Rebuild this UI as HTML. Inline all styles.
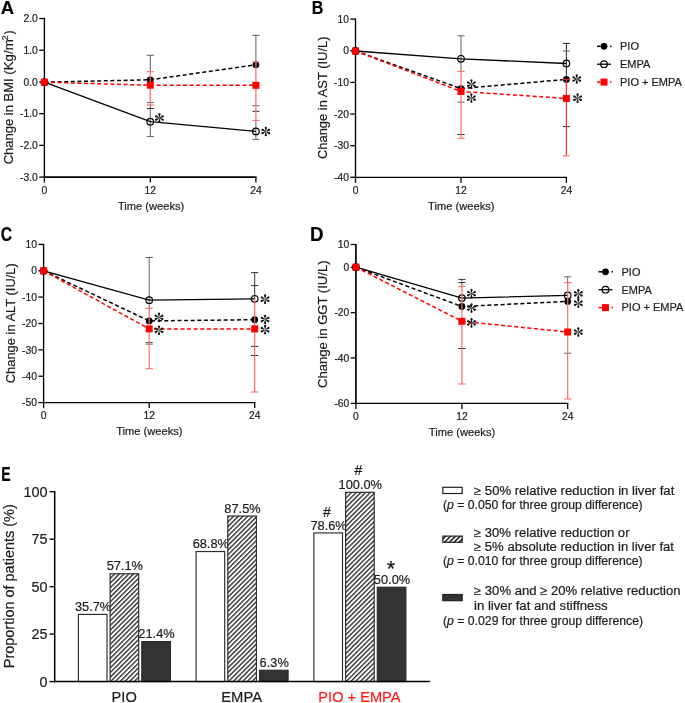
<!DOCTYPE html>
<html><head><meta charset="utf-8"><style>
html,body{margin:0;padding:0;background:#fff;width:685px;height:703px;overflow:hidden}
svg{display:block;font-family:"Liberation Sans",sans-serif;will-change:transform}
</style></head><body>
<svg width="685" height="703" viewBox="0 0 685 703" font-family="Liberation Sans, sans-serif">
<rect width="685" height="703" fill="#fff"/>
<text x="0" y="0" font-size="20" font-weight="bold" fill="#000" transform="matrix(0.9240,0,0,0.9230,0.64,14.10)" stroke="#000" stroke-width="0.2">A</text>
<line x1="44.40" y1="17.90" x2="44.40" y2="177.70" stroke="#000" stroke-width="1.35" stroke-linecap="butt"/>
<line x1="43.80" y1="177.10" x2="256.50" y2="177.10" stroke="#000" stroke-width="1.75" stroke-linecap="butt"/>
<line x1="39.20" y1="18.50" x2="44.40" y2="18.50" stroke="#000" stroke-width="1.3" stroke-linecap="butt"/>
<text x="37.80" y="22.20" font-size="10.3" text-anchor="end" font-weight="normal" fill="#1c1c1c"  stroke="#1c1c1c" stroke-width="0.2">2.0</text>
<line x1="39.20" y1="50.22" x2="44.40" y2="50.22" stroke="#000" stroke-width="1.3" stroke-linecap="butt"/>
<text x="37.80" y="53.92" font-size="10.3" text-anchor="end" font-weight="normal" fill="#1c1c1c"  stroke="#1c1c1c" stroke-width="0.2">1.0</text>
<line x1="39.20" y1="81.94" x2="44.40" y2="81.94" stroke="#000" stroke-width="1.3" stroke-linecap="butt"/>
<text x="37.80" y="85.64" font-size="10.3" text-anchor="end" font-weight="normal" fill="#1c1c1c"  stroke="#1c1c1c" stroke-width="0.2">0.0</text>
<line x1="39.20" y1="113.66" x2="44.40" y2="113.66" stroke="#000" stroke-width="1.3" stroke-linecap="butt"/>
<text x="37.80" y="117.36" font-size="10.3" text-anchor="end" font-weight="normal" fill="#1c1c1c"  stroke="#1c1c1c" stroke-width="0.2">-1.0</text>
<line x1="39.20" y1="145.38" x2="44.40" y2="145.38" stroke="#000" stroke-width="1.3" stroke-linecap="butt"/>
<text x="37.80" y="149.08" font-size="10.3" text-anchor="end" font-weight="normal" fill="#1c1c1c"  stroke="#1c1c1c" stroke-width="0.2">-2.0</text>
<line x1="39.20" y1="177.10" x2="44.40" y2="177.10" stroke="#000" stroke-width="1.3" stroke-linecap="butt"/>
<text x="37.80" y="180.80" font-size="10.3" text-anchor="end" font-weight="normal" fill="#1c1c1c"  stroke="#1c1c1c" stroke-width="0.2">-3.0</text>
<line x1="44.40" y1="177.10" x2="44.40" y2="182.60" stroke="#000" stroke-width="1.3" stroke-linecap="butt"/>
<text x="44.40" y="193.50" font-size="10.3" text-anchor="middle" font-weight="normal" fill="#1c1c1c"  stroke="#1c1c1c" stroke-width="0.2">0</text>
<line x1="150.30" y1="177.10" x2="150.30" y2="182.60" stroke="#000" stroke-width="1.3" stroke-linecap="butt"/>
<text x="150.30" y="193.50" font-size="10.3" text-anchor="middle" font-weight="normal" fill="#1c1c1c"  stroke="#1c1c1c" stroke-width="0.2">12</text>
<line x1="255.90" y1="177.10" x2="255.90" y2="182.60" stroke="#000" stroke-width="1.3" stroke-linecap="butt"/>
<text x="255.90" y="193.50" font-size="10.3" text-anchor="middle" font-weight="normal" fill="#1c1c1c"  stroke="#1c1c1c" stroke-width="0.2">24</text>
<text x="151.10" y="209.70" font-size="11" text-anchor="middle" font-weight="normal" fill="#1c1c1c" textLength="66.4" lengthAdjust="spacingAndGlyphs"  stroke="#1c1c1c" stroke-width="0.2">Time (weeks)</text>
<line x1="150.30" y1="55.30" x2="150.30" y2="71.70" stroke="#606060" stroke-width="1.0" stroke-linecap="butt"/>
<line x1="150.30" y1="105.00" x2="150.30" y2="136.60" stroke="#606060" stroke-width="1.0" stroke-linecap="butt"/>
<line x1="146.70" y1="55.30" x2="153.90" y2="55.30" stroke="#606060" stroke-width="1.0" stroke-linecap="butt"/>
<line x1="146.70" y1="102.60" x2="153.90" y2="102.60" stroke="#606060" stroke-width="1.0" stroke-linecap="butt"/>
<line x1="146.70" y1="108.50" x2="153.90" y2="108.50" stroke="#333" stroke-width="1.0" stroke-linecap="butt"/>
<line x1="146.70" y1="136.60" x2="153.90" y2="136.60" stroke="#606060" stroke-width="1.0" stroke-linecap="butt"/>
<line x1="255.90" y1="35.40" x2="255.90" y2="61.90" stroke="#606060" stroke-width="1.0" stroke-linecap="butt"/>
<line x1="255.90" y1="120.40" x2="255.90" y2="139.30" stroke="#606060" stroke-width="1.0" stroke-linecap="butt"/>
<line x1="252.30" y1="35.40" x2="259.50" y2="35.40" stroke="#606060" stroke-width="1.0" stroke-linecap="butt"/>
<line x1="252.30" y1="105.70" x2="259.50" y2="105.70" stroke="#606060" stroke-width="1.0" stroke-linecap="butt"/>
<line x1="252.30" y1="111.30" x2="259.50" y2="111.30" stroke="#333" stroke-width="1.0" stroke-linecap="butt"/>
<line x1="252.30" y1="139.30" x2="259.50" y2="139.30" stroke="#606060" stroke-width="1.0" stroke-linecap="butt"/>
<polyline points="44.40,82.20 150.30,79.80 255.90,64.80" fill="none" stroke="#000" stroke-width="1.5" stroke-dasharray="4,2.6"/>
<polyline points="44.40,82.20 150.30,121.70 255.90,131.40" fill="none" stroke="#000" stroke-width="1.3"/>
<polyline points="44.40,82.20 150.30,85.20 255.90,85.30" fill="none" stroke="#ff0000" stroke-width="1.5" stroke-dasharray="4,2.6"/>
<circle cx="44.40" cy="82.20" r="3.3" fill="none" stroke="#000" stroke-width="1.2"/>
<circle cx="150.30" cy="121.70" r="3.3" fill="none" stroke="#000" stroke-width="1.2"/>
<circle cx="255.90" cy="131.40" r="3.3" fill="none" stroke="#000" stroke-width="1.2"/>
<circle cx="44.40" cy="82.20" r="3.4" fill="#000"/>
<circle cx="150.30" cy="79.80" r="3.4" fill="#000"/>
<circle cx="255.90" cy="64.80" r="3.4" fill="#000"/>
<line x1="150.30" y1="71.70" x2="150.30" y2="105.00" stroke="#ff6a6a" stroke-width="1.2" stroke-linecap="butt"/>
<line x1="146.70" y1="71.70" x2="153.90" y2="71.70" stroke="#ff6a6a" stroke-width="1.1" stroke-linecap="butt"/>
<line x1="146.70" y1="105.00" x2="153.90" y2="105.00" stroke="#ff6a6a" stroke-width="1.1" stroke-linecap="butt"/>
<line x1="255.90" y1="61.90" x2="255.90" y2="120.40" stroke="#ff6a6a" stroke-width="1.2" stroke-linecap="butt"/>
<line x1="252.30" y1="61.90" x2="259.50" y2="61.90" stroke="#ff6a6a" stroke-width="1.1" stroke-linecap="butt"/>
<line x1="252.30" y1="120.40" x2="259.50" y2="120.40" stroke="#ff6a6a" stroke-width="1.1" stroke-linecap="butt"/>
<rect x="40.90" y="78.70" width="7" height="7" fill="#ff0000"/>
<rect x="146.80" y="81.70" width="7" height="7" fill="#ff0000"/>
<rect x="252.40" y="81.80" width="7" height="7" fill="#ff0000"/>
<path d="M0.6,-0.2 L3.75,-1.10 A1.10,1.10 0 1 1 3.75,1.10 L0.6,0.2 Z" fill="#111" transform="translate(159.40,118.00) rotate(-90)"/>
<path d="M0.6,-0.2 L3.75,-1.10 A1.10,1.10 0 1 1 3.75,1.10 L0.6,0.2 Z" fill="#111" transform="translate(159.40,118.00) rotate(-27)"/>
<path d="M0.6,-0.2 L3.75,-1.10 A1.10,1.10 0 1 1 3.75,1.10 L0.6,0.2 Z" fill="#111" transform="translate(159.40,118.00) rotate(27)"/>
<path d="M0.6,-0.2 L3.75,-1.10 A1.10,1.10 0 1 1 3.75,1.10 L0.6,0.2 Z" fill="#111" transform="translate(159.40,118.00) rotate(90)"/>
<path d="M0.6,-0.2 L3.75,-1.10 A1.10,1.10 0 1 1 3.75,1.10 L0.6,0.2 Z" fill="#111" transform="translate(159.40,118.00) rotate(-153)"/>
<path d="M0.6,-0.2 L3.75,-1.10 A1.10,1.10 0 1 1 3.75,1.10 L0.6,0.2 Z" fill="#111" transform="translate(159.40,118.00) rotate(-207)"/>
<circle cx="159.40" cy="118.00" r="0.55" fill="#111"/>
<path d="M0.6,-0.2 L3.75,-1.10 A1.10,1.10 0 1 1 3.75,1.10 L0.6,0.2 Z" fill="#111" transform="translate(265.80,131.50) rotate(-90)"/>
<path d="M0.6,-0.2 L3.75,-1.10 A1.10,1.10 0 1 1 3.75,1.10 L0.6,0.2 Z" fill="#111" transform="translate(265.80,131.50) rotate(-27)"/>
<path d="M0.6,-0.2 L3.75,-1.10 A1.10,1.10 0 1 1 3.75,1.10 L0.6,0.2 Z" fill="#111" transform="translate(265.80,131.50) rotate(27)"/>
<path d="M0.6,-0.2 L3.75,-1.10 A1.10,1.10 0 1 1 3.75,1.10 L0.6,0.2 Z" fill="#111" transform="translate(265.80,131.50) rotate(90)"/>
<path d="M0.6,-0.2 L3.75,-1.10 A1.10,1.10 0 1 1 3.75,1.10 L0.6,0.2 Z" fill="#111" transform="translate(265.80,131.50) rotate(-153)"/>
<path d="M0.6,-0.2 L3.75,-1.10 A1.10,1.10 0 1 1 3.75,1.10 L0.6,0.2 Z" fill="#111" transform="translate(265.80,131.50) rotate(-207)"/>
<circle cx="265.80" cy="131.50" r="0.55" fill="#111"/>
<text transform="translate(13.30,164.35) rotate(-90)" font-size="13.3" fill="#1c1c1c" textLength="85.98" lengthAdjust="spacingAndGlyphs" stroke="#1c1c1c" stroke-width="0.2">Change in BMI</text>
<text transform="translate(13.30,74.70) rotate(-90)" font-size="13.3" fill="#1c1c1c" textLength="35.39" lengthAdjust="spacingAndGlyphs" stroke="#1c1c1c" stroke-width="0.2">(Kg/m</text>
<text transform="translate(7.60,40.46) rotate(-90)" font-size="9.0" fill="#1c1c1c" textLength="5.13" lengthAdjust="spacingAndGlyphs" stroke="#1c1c1c" stroke-width="0.2">2</text>
<text transform="translate(13.30,34.22) rotate(-90)" font-size="13.3" fill="#1c1c1c" textLength="3.84" lengthAdjust="spacingAndGlyphs" stroke="#1c1c1c" stroke-width="0.2">)</text>
<text x="0" y="0" font-size="20" font-weight="bold" fill="#000" transform="matrix(0.8033,0,0,0.9157,311.82,13.80)" stroke="#000" stroke-width="0.2">B</text>
<line x1="355.50" y1="18.50" x2="355.50" y2="177.90" stroke="#000" stroke-width="1.35" stroke-linecap="butt"/>
<line x1="354.90" y1="177.30" x2="567.00" y2="177.30" stroke="#000" stroke-width="1.35" stroke-linecap="butt"/>
<line x1="350.30" y1="19.10" x2="355.50" y2="19.10" stroke="#000" stroke-width="1.3" stroke-linecap="butt"/>
<text x="348.90" y="22.80" font-size="10.3" text-anchor="end" font-weight="normal" fill="#1c1c1c"  stroke="#1c1c1c" stroke-width="0.2">10</text>
<line x1="350.30" y1="50.74" x2="355.50" y2="50.74" stroke="#000" stroke-width="1.3" stroke-linecap="butt"/>
<text x="348.90" y="54.44" font-size="10.3" text-anchor="end" font-weight="normal" fill="#1c1c1c"  stroke="#1c1c1c" stroke-width="0.2">0</text>
<line x1="350.30" y1="82.38" x2="355.50" y2="82.38" stroke="#000" stroke-width="1.3" stroke-linecap="butt"/>
<text x="348.90" y="86.08" font-size="10.3" text-anchor="end" font-weight="normal" fill="#1c1c1c"  stroke="#1c1c1c" stroke-width="0.2">-10</text>
<line x1="350.30" y1="114.02" x2="355.50" y2="114.02" stroke="#000" stroke-width="1.3" stroke-linecap="butt"/>
<text x="348.90" y="117.72" font-size="10.3" text-anchor="end" font-weight="normal" fill="#1c1c1c"  stroke="#1c1c1c" stroke-width="0.2">-20</text>
<line x1="350.30" y1="145.66" x2="355.50" y2="145.66" stroke="#000" stroke-width="1.3" stroke-linecap="butt"/>
<text x="348.90" y="149.36" font-size="10.3" text-anchor="end" font-weight="normal" fill="#1c1c1c"  stroke="#1c1c1c" stroke-width="0.2">-30</text>
<line x1="350.30" y1="177.30" x2="355.50" y2="177.30" stroke="#000" stroke-width="1.3" stroke-linecap="butt"/>
<text x="348.90" y="181.00" font-size="10.3" text-anchor="end" font-weight="normal" fill="#1c1c1c"  stroke="#1c1c1c" stroke-width="0.2">-40</text>
<line x1="355.50" y1="177.30" x2="355.50" y2="182.80" stroke="#000" stroke-width="1.3" stroke-linecap="butt"/>
<text x="355.50" y="193.70" font-size="10.3" text-anchor="middle" font-weight="normal" fill="#1c1c1c"  stroke="#1c1c1c" stroke-width="0.2">0</text>
<line x1="461.00" y1="177.30" x2="461.00" y2="182.80" stroke="#000" stroke-width="1.3" stroke-linecap="butt"/>
<text x="461.00" y="193.70" font-size="10.3" text-anchor="middle" font-weight="normal" fill="#1c1c1c"  stroke="#1c1c1c" stroke-width="0.2">12</text>
<line x1="566.40" y1="177.30" x2="566.40" y2="182.80" stroke="#000" stroke-width="1.3" stroke-linecap="butt"/>
<text x="566.40" y="193.70" font-size="10.3" text-anchor="middle" font-weight="normal" fill="#1c1c1c"  stroke="#1c1c1c" stroke-width="0.2">24</text>
<text x="461.30" y="209.90" font-size="11" text-anchor="middle" font-weight="normal" fill="#1c1c1c" textLength="66.4" lengthAdjust="spacingAndGlyphs"  stroke="#1c1c1c" stroke-width="0.2">Time (weeks)</text>
<text transform="translate(327.0,159.0) rotate(-90)" font-size="13.3" fill="#1c1c1c" textLength="122.5" lengthAdjust="spacingAndGlyphs" stroke="#1c1c1c" stroke-width="0.2">Change in AST (IU/L)</text>
<line x1="461.00" y1="35.80" x2="461.00" y2="71.40" stroke="#606060" stroke-width="1.0" stroke-linecap="butt"/>
<line x1="457.40" y1="35.80" x2="464.60" y2="35.80" stroke="#606060" stroke-width="1.0" stroke-linecap="butt"/>
<line x1="457.40" y1="102.20" x2="464.60" y2="102.20" stroke="#606060" stroke-width="1.0" stroke-linecap="butt"/>
<line x1="457.40" y1="134.50" x2="464.60" y2="134.50" stroke="#333" stroke-width="1.0" stroke-linecap="butt"/>
<line x1="566.40" y1="43.40" x2="566.40" y2="79.40" stroke="#222" stroke-width="1.0" stroke-linecap="butt"/>
<line x1="562.80" y1="43.40" x2="570.00" y2="43.40" stroke="#222" stroke-width="1.0" stroke-linecap="butt"/>
<line x1="562.80" y1="51.00" x2="570.00" y2="51.00" stroke="#606060" stroke-width="1.0" stroke-linecap="butt"/>
<line x1="562.80" y1="126.60" x2="570.00" y2="126.60" stroke="#333" stroke-width="1.0" stroke-linecap="butt"/>
<polyline points="355.50,51.00 461.00,88.60 566.40,79.40" fill="none" stroke="#000" stroke-width="1.5" stroke-dasharray="4,2.6"/>
<polyline points="355.50,51.00 461.00,58.80 566.40,63.50" fill="none" stroke="#000" stroke-width="1.3"/>
<polyline points="355.50,51.00 461.00,91.50 566.40,98.40" fill="none" stroke="#ff0000" stroke-width="1.5" stroke-dasharray="4,2.6"/>
<circle cx="355.50" cy="51.00" r="3.3" fill="none" stroke="#000" stroke-width="1.2"/>
<circle cx="461.00" cy="58.80" r="3.3" fill="none" stroke="#000" stroke-width="1.2"/>
<circle cx="566.40" cy="63.50" r="3.3" fill="none" stroke="#000" stroke-width="1.2"/>
<circle cx="355.50" cy="51.00" r="3.4" fill="#000"/>
<circle cx="461.00" cy="88.60" r="3.4" fill="#000"/>
<circle cx="566.40" cy="79.40" r="3.4" fill="#000"/>
<line x1="461.00" y1="71.40" x2="461.00" y2="138.20" stroke="#ff6a6a" stroke-width="1.2" stroke-linecap="butt"/>
<line x1="457.40" y1="71.40" x2="464.60" y2="71.40" stroke="#ff6a6a" stroke-width="1.1" stroke-linecap="butt"/>
<line x1="457.40" y1="138.20" x2="464.60" y2="138.20" stroke="#ff6a6a" stroke-width="1.1" stroke-linecap="butt"/>
<line x1="566.40" y1="79.40" x2="566.40" y2="155.80" stroke="#ff2a2a" stroke-width="1.2" stroke-linecap="butt"/>
<line x1="562.80" y1="79.40" x2="570.00" y2="79.40" stroke="#ff2a2a" stroke-width="1.1" stroke-linecap="butt"/>
<line x1="562.80" y1="155.80" x2="570.00" y2="155.80" stroke="#ff6a6a" stroke-width="1.1" stroke-linecap="butt"/>
<rect x="352.00" y="47.50" width="7" height="7" fill="#ff0000"/>
<rect x="457.50" y="88.00" width="7" height="7" fill="#ff0000"/>
<rect x="562.90" y="94.90" width="7" height="7" fill="#ff0000"/>
<path d="M0.6,-0.2 L3.75,-1.10 A1.10,1.10 0 1 1 3.75,1.10 L0.6,0.2 Z" fill="#111" transform="translate(471.40,84.20) rotate(-90)"/>
<path d="M0.6,-0.2 L3.75,-1.10 A1.10,1.10 0 1 1 3.75,1.10 L0.6,0.2 Z" fill="#111" transform="translate(471.40,84.20) rotate(-27)"/>
<path d="M0.6,-0.2 L3.75,-1.10 A1.10,1.10 0 1 1 3.75,1.10 L0.6,0.2 Z" fill="#111" transform="translate(471.40,84.20) rotate(27)"/>
<path d="M0.6,-0.2 L3.75,-1.10 A1.10,1.10 0 1 1 3.75,1.10 L0.6,0.2 Z" fill="#111" transform="translate(471.40,84.20) rotate(90)"/>
<path d="M0.6,-0.2 L3.75,-1.10 A1.10,1.10 0 1 1 3.75,1.10 L0.6,0.2 Z" fill="#111" transform="translate(471.40,84.20) rotate(-153)"/>
<path d="M0.6,-0.2 L3.75,-1.10 A1.10,1.10 0 1 1 3.75,1.10 L0.6,0.2 Z" fill="#111" transform="translate(471.40,84.20) rotate(-207)"/>
<circle cx="471.40" cy="84.20" r="0.55" fill="#111"/>
<path d="M0.6,-0.2 L3.75,-1.10 A1.10,1.10 0 1 1 3.75,1.10 L0.6,0.2 Z" fill="#111" transform="translate(471.40,98.10) rotate(-90)"/>
<path d="M0.6,-0.2 L3.75,-1.10 A1.10,1.10 0 1 1 3.75,1.10 L0.6,0.2 Z" fill="#111" transform="translate(471.40,98.10) rotate(-27)"/>
<path d="M0.6,-0.2 L3.75,-1.10 A1.10,1.10 0 1 1 3.75,1.10 L0.6,0.2 Z" fill="#111" transform="translate(471.40,98.10) rotate(27)"/>
<path d="M0.6,-0.2 L3.75,-1.10 A1.10,1.10 0 1 1 3.75,1.10 L0.6,0.2 Z" fill="#111" transform="translate(471.40,98.10) rotate(90)"/>
<path d="M0.6,-0.2 L3.75,-1.10 A1.10,1.10 0 1 1 3.75,1.10 L0.6,0.2 Z" fill="#111" transform="translate(471.40,98.10) rotate(-153)"/>
<path d="M0.6,-0.2 L3.75,-1.10 A1.10,1.10 0 1 1 3.75,1.10 L0.6,0.2 Z" fill="#111" transform="translate(471.40,98.10) rotate(-207)"/>
<circle cx="471.40" cy="98.10" r="0.55" fill="#111"/>
<path d="M0.6,-0.2 L3.75,-1.10 A1.10,1.10 0 1 1 3.75,1.10 L0.6,0.2 Z" fill="#111" transform="translate(576.80,79.00) rotate(-90)"/>
<path d="M0.6,-0.2 L3.75,-1.10 A1.10,1.10 0 1 1 3.75,1.10 L0.6,0.2 Z" fill="#111" transform="translate(576.80,79.00) rotate(-27)"/>
<path d="M0.6,-0.2 L3.75,-1.10 A1.10,1.10 0 1 1 3.75,1.10 L0.6,0.2 Z" fill="#111" transform="translate(576.80,79.00) rotate(27)"/>
<path d="M0.6,-0.2 L3.75,-1.10 A1.10,1.10 0 1 1 3.75,1.10 L0.6,0.2 Z" fill="#111" transform="translate(576.80,79.00) rotate(90)"/>
<path d="M0.6,-0.2 L3.75,-1.10 A1.10,1.10 0 1 1 3.75,1.10 L0.6,0.2 Z" fill="#111" transform="translate(576.80,79.00) rotate(-153)"/>
<path d="M0.6,-0.2 L3.75,-1.10 A1.10,1.10 0 1 1 3.75,1.10 L0.6,0.2 Z" fill="#111" transform="translate(576.80,79.00) rotate(-207)"/>
<circle cx="576.80" cy="79.00" r="0.55" fill="#111"/>
<path d="M0.6,-0.2 L3.75,-1.10 A1.10,1.10 0 1 1 3.75,1.10 L0.6,0.2 Z" fill="#111" transform="translate(577.60,98.20) rotate(-90)"/>
<path d="M0.6,-0.2 L3.75,-1.10 A1.10,1.10 0 1 1 3.75,1.10 L0.6,0.2 Z" fill="#111" transform="translate(577.60,98.20) rotate(-27)"/>
<path d="M0.6,-0.2 L3.75,-1.10 A1.10,1.10 0 1 1 3.75,1.10 L0.6,0.2 Z" fill="#111" transform="translate(577.60,98.20) rotate(27)"/>
<path d="M0.6,-0.2 L3.75,-1.10 A1.10,1.10 0 1 1 3.75,1.10 L0.6,0.2 Z" fill="#111" transform="translate(577.60,98.20) rotate(90)"/>
<path d="M0.6,-0.2 L3.75,-1.10 A1.10,1.10 0 1 1 3.75,1.10 L0.6,0.2 Z" fill="#111" transform="translate(577.60,98.20) rotate(-153)"/>
<path d="M0.6,-0.2 L3.75,-1.10 A1.10,1.10 0 1 1 3.75,1.10 L0.6,0.2 Z" fill="#111" transform="translate(577.60,98.20) rotate(-207)"/>
<circle cx="577.60" cy="98.20" r="0.55" fill="#111"/>
<line x1="597.00" y1="46.30" x2="600.50" y2="46.30" stroke="#000" stroke-width="1.5" stroke-linecap="butt"/>
<circle cx="604.00" cy="46.30" r="3.4" fill="#000"/>
<line x1="610.00" y1="46.30" x2="611.50" y2="46.30" stroke="#000" stroke-width="1.5" stroke-linecap="butt"/>
<line x1="597.00" y1="64.20" x2="611.00" y2="64.20" stroke="#000" stroke-width="1.3" stroke-linecap="butt"/>
<circle cx="604.00" cy="64.20" r="3.3" fill="none" stroke="#000" stroke-width="1.2"/>
<line x1="597.00" y1="82.10" x2="600.50" y2="82.10" stroke="#ff0000" stroke-width="1.5" stroke-linecap="butt"/>
<rect x="600.50" y="78.60" width="7" height="7" fill="#ff0000"/>
<line x1="610.00" y1="82.10" x2="611.50" y2="82.10" stroke="#ff0000" stroke-width="1.5" stroke-linecap="butt"/>
<text x="620.00" y="50.10" font-size="11" text-anchor="start" font-weight="normal" fill="#1c1c1c"  stroke="#1c1c1c" stroke-width="0.2">PIO</text>
<text x="620.00" y="68.00" font-size="11" text-anchor="start" font-weight="normal" fill="#1c1c1c"  stroke="#1c1c1c" stroke-width="0.2">EMPA</text>
<text x="620.00" y="85.90" font-size="11" text-anchor="start" font-weight="normal" fill="#1c1c1c"  stroke="#1c1c1c" stroke-width="0.2">PIO + EMPA</text>
<text x="0" y="0" font-size="20" font-weight="bold" fill="#000" transform="matrix(0.7875,0,0,0.9887,0.85,240.80)" stroke="#000" stroke-width="0.2">C</text>
<line x1="43.60" y1="243.80" x2="43.60" y2="403.20" stroke="#000" stroke-width="1.35" stroke-linecap="butt"/>
<line x1="43.00" y1="402.60" x2="255.30" y2="402.60" stroke="#000" stroke-width="1.35" stroke-linecap="butt"/>
<line x1="38.40" y1="244.40" x2="43.60" y2="244.40" stroke="#000" stroke-width="1.3" stroke-linecap="butt"/>
<text x="37.00" y="248.10" font-size="10.3" text-anchor="end" font-weight="normal" fill="#1c1c1c"  stroke="#1c1c1c" stroke-width="0.2">10</text>
<line x1="38.40" y1="270.77" x2="43.60" y2="270.77" stroke="#000" stroke-width="1.3" stroke-linecap="butt"/>
<text x="37.00" y="274.47" font-size="10.3" text-anchor="end" font-weight="normal" fill="#1c1c1c"  stroke="#1c1c1c" stroke-width="0.2">0</text>
<line x1="38.40" y1="297.13" x2="43.60" y2="297.13" stroke="#000" stroke-width="1.3" stroke-linecap="butt"/>
<text x="37.00" y="300.83" font-size="10.3" text-anchor="end" font-weight="normal" fill="#1c1c1c"  stroke="#1c1c1c" stroke-width="0.2">-10</text>
<line x1="38.40" y1="323.50" x2="43.60" y2="323.50" stroke="#000" stroke-width="1.3" stroke-linecap="butt"/>
<text x="37.00" y="327.20" font-size="10.3" text-anchor="end" font-weight="normal" fill="#1c1c1c"  stroke="#1c1c1c" stroke-width="0.2">-20</text>
<line x1="38.40" y1="349.87" x2="43.60" y2="349.87" stroke="#000" stroke-width="1.3" stroke-linecap="butt"/>
<text x="37.00" y="353.57" font-size="10.3" text-anchor="end" font-weight="normal" fill="#1c1c1c"  stroke="#1c1c1c" stroke-width="0.2">-30</text>
<line x1="38.40" y1="376.23" x2="43.60" y2="376.23" stroke="#000" stroke-width="1.3" stroke-linecap="butt"/>
<text x="37.00" y="379.93" font-size="10.3" text-anchor="end" font-weight="normal" fill="#1c1c1c"  stroke="#1c1c1c" stroke-width="0.2">-40</text>
<line x1="38.40" y1="402.60" x2="43.60" y2="402.60" stroke="#000" stroke-width="1.3" stroke-linecap="butt"/>
<text x="37.00" y="406.30" font-size="10.3" text-anchor="end" font-weight="normal" fill="#1c1c1c"  stroke="#1c1c1c" stroke-width="0.2">-50</text>
<line x1="43.60" y1="402.60" x2="43.60" y2="408.10" stroke="#000" stroke-width="1.3" stroke-linecap="butt"/>
<text x="43.60" y="419.00" font-size="10.3" text-anchor="middle" font-weight="normal" fill="#1c1c1c"  stroke="#1c1c1c" stroke-width="0.2">0</text>
<line x1="149.20" y1="402.60" x2="149.20" y2="408.10" stroke="#000" stroke-width="1.3" stroke-linecap="butt"/>
<text x="149.20" y="419.00" font-size="10.3" text-anchor="middle" font-weight="normal" fill="#1c1c1c"  stroke="#1c1c1c" stroke-width="0.2">12</text>
<line x1="254.70" y1="402.60" x2="254.70" y2="408.10" stroke="#000" stroke-width="1.3" stroke-linecap="butt"/>
<text x="254.70" y="419.00" font-size="10.3" text-anchor="middle" font-weight="normal" fill="#1c1c1c"  stroke="#1c1c1c" stroke-width="0.2">24</text>
<text x="149.40" y="435.10" font-size="11" text-anchor="middle" font-weight="normal" fill="#1c1c1c" textLength="66.4" lengthAdjust="spacingAndGlyphs"  stroke="#1c1c1c" stroke-width="0.2">Time (weeks)</text>
<text transform="translate(14.7,383.3) rotate(-90)" font-size="13.3" fill="#1c1c1c" textLength="120.1" lengthAdjust="spacingAndGlyphs" stroke="#1c1c1c" stroke-width="0.2">Change in ALT (IU/L)</text>
<line x1="149.20" y1="257.50" x2="149.20" y2="308.40" stroke="#606060" stroke-width="1.0" stroke-linecap="butt"/>
<line x1="145.60" y1="257.50" x2="152.80" y2="257.50" stroke="#606060" stroke-width="1.0" stroke-linecap="butt"/>
<line x1="145.60" y1="342.50" x2="152.80" y2="342.50" stroke="#606060" stroke-width="1.0" stroke-linecap="butt"/>
<line x1="145.60" y1="344.10" x2="152.80" y2="344.10" stroke="#606060" stroke-width="1.0" stroke-linecap="butt"/>
<line x1="254.70" y1="272.60" x2="254.70" y2="298.80" stroke="#333" stroke-width="1.0" stroke-linecap="butt"/>
<line x1="251.10" y1="272.60" x2="258.30" y2="272.60" stroke="#333" stroke-width="1.0" stroke-linecap="butt"/>
<line x1="251.10" y1="285.60" x2="258.30" y2="285.60" stroke="#333" stroke-width="1.0" stroke-linecap="butt"/>
<line x1="251.10" y1="346.40" x2="258.30" y2="346.40" stroke="#333" stroke-width="1.0" stroke-linecap="butt"/>
<line x1="251.10" y1="355.50" x2="258.30" y2="355.50" stroke="#333" stroke-width="1.0" stroke-linecap="butt"/>
<polyline points="43.60,270.80 149.20,320.90 254.70,319.70" fill="none" stroke="#000" stroke-width="1.5" stroke-dasharray="4,2.6"/>
<polyline points="43.60,270.80 149.20,300.20 254.70,298.80" fill="none" stroke="#000" stroke-width="1.3"/>
<polyline points="43.60,270.80 149.20,328.90 254.70,328.90" fill="none" stroke="#ff0000" stroke-width="1.5" stroke-dasharray="4,2.6"/>
<circle cx="43.60" cy="270.80" r="3.3" fill="none" stroke="#000" stroke-width="1.2"/>
<circle cx="149.20" cy="300.20" r="3.3" fill="none" stroke="#000" stroke-width="1.2"/>
<circle cx="254.70" cy="298.80" r="3.3" fill="none" stroke="#000" stroke-width="1.2"/>
<circle cx="43.60" cy="270.80" r="3.4" fill="#000"/>
<circle cx="149.20" cy="320.90" r="3.4" fill="#000"/>
<circle cx="254.70" cy="319.70" r="3.4" fill="#000"/>
<line x1="149.20" y1="308.40" x2="149.20" y2="368.70" stroke="#ff6a6a" stroke-width="1.2" stroke-linecap="butt"/>
<line x1="145.60" y1="308.40" x2="152.80" y2="308.40" stroke="#ff6a6a" stroke-width="1.1" stroke-linecap="butt"/>
<line x1="145.60" y1="368.70" x2="152.80" y2="368.70" stroke="#ff6a6a" stroke-width="1.1" stroke-linecap="butt"/>
<line x1="254.70" y1="298.80" x2="254.70" y2="392.00" stroke="#ff6a6a" stroke-width="1.2" stroke-linecap="butt"/>
<line x1="251.10" y1="392.00" x2="258.30" y2="392.00" stroke="#ff6a6a" stroke-width="1.1" stroke-linecap="butt"/>
<rect x="40.10" y="267.30" width="7" height="7" fill="#ff0000"/>
<rect x="145.70" y="325.40" width="7" height="7" fill="#ff0000"/>
<rect x="251.20" y="325.40" width="7" height="7" fill="#ff0000"/>
<path d="M0.6,-0.2 L3.75,-1.10 A1.10,1.10 0 1 1 3.75,1.10 L0.6,0.2 Z" fill="#111" transform="translate(159.00,317.40) rotate(-90)"/>
<path d="M0.6,-0.2 L3.75,-1.10 A1.10,1.10 0 1 1 3.75,1.10 L0.6,0.2 Z" fill="#111" transform="translate(159.00,317.40) rotate(-27)"/>
<path d="M0.6,-0.2 L3.75,-1.10 A1.10,1.10 0 1 1 3.75,1.10 L0.6,0.2 Z" fill="#111" transform="translate(159.00,317.40) rotate(27)"/>
<path d="M0.6,-0.2 L3.75,-1.10 A1.10,1.10 0 1 1 3.75,1.10 L0.6,0.2 Z" fill="#111" transform="translate(159.00,317.40) rotate(90)"/>
<path d="M0.6,-0.2 L3.75,-1.10 A1.10,1.10 0 1 1 3.75,1.10 L0.6,0.2 Z" fill="#111" transform="translate(159.00,317.40) rotate(-153)"/>
<path d="M0.6,-0.2 L3.75,-1.10 A1.10,1.10 0 1 1 3.75,1.10 L0.6,0.2 Z" fill="#111" transform="translate(159.00,317.40) rotate(-207)"/>
<circle cx="159.00" cy="317.40" r="0.55" fill="#111"/>
<path d="M0.6,-0.2 L3.75,-1.10 A1.10,1.10 0 1 1 3.75,1.10 L0.6,0.2 Z" fill="#111" transform="translate(159.00,330.30) rotate(-90)"/>
<path d="M0.6,-0.2 L3.75,-1.10 A1.10,1.10 0 1 1 3.75,1.10 L0.6,0.2 Z" fill="#111" transform="translate(159.00,330.30) rotate(-27)"/>
<path d="M0.6,-0.2 L3.75,-1.10 A1.10,1.10 0 1 1 3.75,1.10 L0.6,0.2 Z" fill="#111" transform="translate(159.00,330.30) rotate(27)"/>
<path d="M0.6,-0.2 L3.75,-1.10 A1.10,1.10 0 1 1 3.75,1.10 L0.6,0.2 Z" fill="#111" transform="translate(159.00,330.30) rotate(90)"/>
<path d="M0.6,-0.2 L3.75,-1.10 A1.10,1.10 0 1 1 3.75,1.10 L0.6,0.2 Z" fill="#111" transform="translate(159.00,330.30) rotate(-153)"/>
<path d="M0.6,-0.2 L3.75,-1.10 A1.10,1.10 0 1 1 3.75,1.10 L0.6,0.2 Z" fill="#111" transform="translate(159.00,330.30) rotate(-207)"/>
<circle cx="159.00" cy="330.30" r="0.55" fill="#111"/>
<path d="M0.6,-0.2 L3.75,-1.10 A1.10,1.10 0 1 1 3.75,1.10 L0.6,0.2 Z" fill="#111" transform="translate(265.10,299.20) rotate(-90)"/>
<path d="M0.6,-0.2 L3.75,-1.10 A1.10,1.10 0 1 1 3.75,1.10 L0.6,0.2 Z" fill="#111" transform="translate(265.10,299.20) rotate(-27)"/>
<path d="M0.6,-0.2 L3.75,-1.10 A1.10,1.10 0 1 1 3.75,1.10 L0.6,0.2 Z" fill="#111" transform="translate(265.10,299.20) rotate(27)"/>
<path d="M0.6,-0.2 L3.75,-1.10 A1.10,1.10 0 1 1 3.75,1.10 L0.6,0.2 Z" fill="#111" transform="translate(265.10,299.20) rotate(90)"/>
<path d="M0.6,-0.2 L3.75,-1.10 A1.10,1.10 0 1 1 3.75,1.10 L0.6,0.2 Z" fill="#111" transform="translate(265.10,299.20) rotate(-153)"/>
<path d="M0.6,-0.2 L3.75,-1.10 A1.10,1.10 0 1 1 3.75,1.10 L0.6,0.2 Z" fill="#111" transform="translate(265.10,299.20) rotate(-207)"/>
<circle cx="265.10" cy="299.20" r="0.55" fill="#111"/>
<path d="M0.6,-0.2 L3.75,-1.10 A1.10,1.10 0 1 1 3.75,1.10 L0.6,0.2 Z" fill="#111" transform="translate(265.10,319.50) rotate(-90)"/>
<path d="M0.6,-0.2 L3.75,-1.10 A1.10,1.10 0 1 1 3.75,1.10 L0.6,0.2 Z" fill="#111" transform="translate(265.10,319.50) rotate(-27)"/>
<path d="M0.6,-0.2 L3.75,-1.10 A1.10,1.10 0 1 1 3.75,1.10 L0.6,0.2 Z" fill="#111" transform="translate(265.10,319.50) rotate(27)"/>
<path d="M0.6,-0.2 L3.75,-1.10 A1.10,1.10 0 1 1 3.75,1.10 L0.6,0.2 Z" fill="#111" transform="translate(265.10,319.50) rotate(90)"/>
<path d="M0.6,-0.2 L3.75,-1.10 A1.10,1.10 0 1 1 3.75,1.10 L0.6,0.2 Z" fill="#111" transform="translate(265.10,319.50) rotate(-153)"/>
<path d="M0.6,-0.2 L3.75,-1.10 A1.10,1.10 0 1 1 3.75,1.10 L0.6,0.2 Z" fill="#111" transform="translate(265.10,319.50) rotate(-207)"/>
<circle cx="265.10" cy="319.50" r="0.55" fill="#111"/>
<path d="M0.6,-0.2 L3.75,-1.10 A1.10,1.10 0 1 1 3.75,1.10 L0.6,0.2 Z" fill="#111" transform="translate(265.10,329.70) rotate(-90)"/>
<path d="M0.6,-0.2 L3.75,-1.10 A1.10,1.10 0 1 1 3.75,1.10 L0.6,0.2 Z" fill="#111" transform="translate(265.10,329.70) rotate(-27)"/>
<path d="M0.6,-0.2 L3.75,-1.10 A1.10,1.10 0 1 1 3.75,1.10 L0.6,0.2 Z" fill="#111" transform="translate(265.10,329.70) rotate(27)"/>
<path d="M0.6,-0.2 L3.75,-1.10 A1.10,1.10 0 1 1 3.75,1.10 L0.6,0.2 Z" fill="#111" transform="translate(265.10,329.70) rotate(90)"/>
<path d="M0.6,-0.2 L3.75,-1.10 A1.10,1.10 0 1 1 3.75,1.10 L0.6,0.2 Z" fill="#111" transform="translate(265.10,329.70) rotate(-153)"/>
<path d="M0.6,-0.2 L3.75,-1.10 A1.10,1.10 0 1 1 3.75,1.10 L0.6,0.2 Z" fill="#111" transform="translate(265.10,329.70) rotate(-207)"/>
<circle cx="265.10" cy="329.70" r="0.55" fill="#111"/>
<text x="0" y="0" font-size="20" font-weight="bold" fill="#000" transform="matrix(0.9380,0,0,0.9666,309.94,240.60)" stroke="#000" stroke-width="0.2">D</text>
<line x1="355.90" y1="243.90" x2="355.90" y2="404.00" stroke="#000" stroke-width="1.7" stroke-linecap="butt"/>
<line x1="355.30" y1="403.40" x2="568.30" y2="403.40" stroke="#000" stroke-width="1.35" stroke-linecap="butt"/>
<line x1="350.70" y1="244.50" x2="355.90" y2="244.50" stroke="#000" stroke-width="1.3" stroke-linecap="butt"/>
<text x="349.30" y="248.20" font-size="10.3" text-anchor="end" font-weight="normal" fill="#1c1c1c"  stroke="#1c1c1c" stroke-width="0.2">10</text>
<line x1="350.70" y1="267.20" x2="355.90" y2="267.20" stroke="#000" stroke-width="1.3" stroke-linecap="butt"/>
<text x="349.30" y="270.90" font-size="10.3" text-anchor="end" font-weight="normal" fill="#1c1c1c"  stroke="#1c1c1c" stroke-width="0.2">0</text>
<line x1="350.70" y1="312.60" x2="355.90" y2="312.60" stroke="#000" stroke-width="1.3" stroke-linecap="butt"/>
<text x="349.30" y="316.30" font-size="10.3" text-anchor="end" font-weight="normal" fill="#1c1c1c"  stroke="#1c1c1c" stroke-width="0.2">-20</text>
<line x1="350.70" y1="358.00" x2="355.90" y2="358.00" stroke="#000" stroke-width="1.3" stroke-linecap="butt"/>
<text x="349.30" y="361.70" font-size="10.3" text-anchor="end" font-weight="normal" fill="#1c1c1c"  stroke="#1c1c1c" stroke-width="0.2">-40</text>
<line x1="350.70" y1="403.40" x2="355.90" y2="403.40" stroke="#000" stroke-width="1.3" stroke-linecap="butt"/>
<text x="349.30" y="407.10" font-size="10.3" text-anchor="end" font-weight="normal" fill="#1c1c1c"  stroke="#1c1c1c" stroke-width="0.2">-60</text>
<line x1="355.90" y1="403.40" x2="355.90" y2="408.90" stroke="#000" stroke-width="1.3" stroke-linecap="butt"/>
<text x="355.90" y="419.80" font-size="10.3" text-anchor="middle" font-weight="normal" fill="#1c1c1c"  stroke="#1c1c1c" stroke-width="0.2">0</text>
<line x1="461.90" y1="403.40" x2="461.90" y2="408.90" stroke="#000" stroke-width="1.3" stroke-linecap="butt"/>
<text x="461.90" y="419.80" font-size="10.3" text-anchor="middle" font-weight="normal" fill="#1c1c1c"  stroke="#1c1c1c" stroke-width="0.2">12</text>
<line x1="567.70" y1="403.40" x2="567.70" y2="408.90" stroke="#000" stroke-width="1.3" stroke-linecap="butt"/>
<text x="567.70" y="419.80" font-size="10.3" text-anchor="middle" font-weight="normal" fill="#1c1c1c"  stroke="#1c1c1c" stroke-width="0.2">24</text>
<text x="462.00" y="435.80" font-size="11" text-anchor="middle" font-weight="normal" fill="#1c1c1c" textLength="66.4" lengthAdjust="spacingAndGlyphs"  stroke="#1c1c1c" stroke-width="0.2">Time (weeks)</text>
<text transform="translate(327.3,388.0) rotate(-90)" font-size="13.3" fill="#1c1c1c" textLength="127.5" lengthAdjust="spacingAndGlyphs" stroke="#1c1c1c" stroke-width="0.2">Change in GGT (IU/L)</text>
<line x1="461.90" y1="279.40" x2="461.90" y2="286.30" stroke="#606060" stroke-width="1.0" stroke-linecap="butt"/>
<line x1="458.30" y1="279.40" x2="465.50" y2="279.40" stroke="#333" stroke-width="1.0" stroke-linecap="butt"/>
<line x1="458.30" y1="282.60" x2="465.50" y2="282.60" stroke="#333" stroke-width="1.0" stroke-linecap="butt"/>
<line x1="458.30" y1="348.50" x2="465.50" y2="348.50" stroke="#333" stroke-width="1.0" stroke-linecap="butt"/>
<line x1="567.70" y1="276.80" x2="567.70" y2="282.60" stroke="#606060" stroke-width="1.0" stroke-linecap="butt"/>
<line x1="564.10" y1="276.80" x2="571.30" y2="276.80" stroke="#606060" stroke-width="1.0" stroke-linecap="butt"/>
<line x1="564.10" y1="353.20" x2="571.30" y2="353.20" stroke="#606060" stroke-width="1.0" stroke-linecap="butt"/>
<polyline points="355.90,267.20 461.90,306.50 567.70,301.40" fill="none" stroke="#000" stroke-width="1.5" stroke-dasharray="4,2.6"/>
<polyline points="355.90,267.20 461.90,298.10 567.70,295.40" fill="none" stroke="#000" stroke-width="1.3"/>
<polyline points="355.90,267.20 461.90,321.30 567.70,332.00" fill="none" stroke="#ff0000" stroke-width="1.5" stroke-dasharray="4,2.6"/>
<circle cx="355.90" cy="267.20" r="3.3" fill="none" stroke="#000" stroke-width="1.2"/>
<circle cx="461.90" cy="298.10" r="3.3" fill="none" stroke="#000" stroke-width="1.2"/>
<circle cx="567.70" cy="295.40" r="3.3" fill="none" stroke="#000" stroke-width="1.2"/>
<circle cx="355.90" cy="267.20" r="3.4" fill="#000"/>
<circle cx="461.90" cy="306.50" r="3.4" fill="#000"/>
<circle cx="567.70" cy="301.40" r="3.4" fill="#000"/>
<line x1="461.90" y1="286.30" x2="461.90" y2="384.00" stroke="#ff6a6a" stroke-width="1.2" stroke-linecap="butt"/>
<line x1="458.30" y1="286.30" x2="465.50" y2="286.30" stroke="#ff6a6a" stroke-width="1.1" stroke-linecap="butt"/>
<line x1="458.30" y1="384.00" x2="465.50" y2="384.00" stroke="#ff6a6a" stroke-width="1.1" stroke-linecap="butt"/>
<line x1="567.70" y1="282.60" x2="567.70" y2="399.00" stroke="#ff6a6a" stroke-width="1.2" stroke-linecap="butt"/>
<line x1="564.10" y1="282.60" x2="571.30" y2="282.60" stroke="#ff6a6a" stroke-width="1.1" stroke-linecap="butt"/>
<line x1="564.10" y1="399.00" x2="571.30" y2="399.00" stroke="#ff6a6a" stroke-width="1.1" stroke-linecap="butt"/>
<rect x="352.40" y="263.70" width="7" height="7" fill="#ff0000"/>
<rect x="458.40" y="317.80" width="7" height="7" fill="#ff0000"/>
<rect x="564.20" y="328.50" width="7" height="7" fill="#ff0000"/>
<path d="M0.6,-0.2 L3.75,-1.10 A1.10,1.10 0 1 1 3.75,1.10 L0.6,0.2 Z" fill="#111" transform="translate(471.50,293.60) rotate(-90)"/>
<path d="M0.6,-0.2 L3.75,-1.10 A1.10,1.10 0 1 1 3.75,1.10 L0.6,0.2 Z" fill="#111" transform="translate(471.50,293.60) rotate(-27)"/>
<path d="M0.6,-0.2 L3.75,-1.10 A1.10,1.10 0 1 1 3.75,1.10 L0.6,0.2 Z" fill="#111" transform="translate(471.50,293.60) rotate(27)"/>
<path d="M0.6,-0.2 L3.75,-1.10 A1.10,1.10 0 1 1 3.75,1.10 L0.6,0.2 Z" fill="#111" transform="translate(471.50,293.60) rotate(90)"/>
<path d="M0.6,-0.2 L3.75,-1.10 A1.10,1.10 0 1 1 3.75,1.10 L0.6,0.2 Z" fill="#111" transform="translate(471.50,293.60) rotate(-153)"/>
<path d="M0.6,-0.2 L3.75,-1.10 A1.10,1.10 0 1 1 3.75,1.10 L0.6,0.2 Z" fill="#111" transform="translate(471.50,293.60) rotate(-207)"/>
<circle cx="471.50" cy="293.60" r="0.55" fill="#111"/>
<path d="M0.6,-0.2 L3.75,-1.10 A1.10,1.10 0 1 1 3.75,1.10 L0.6,0.2 Z" fill="#111" transform="translate(471.50,308.10) rotate(-90)"/>
<path d="M0.6,-0.2 L3.75,-1.10 A1.10,1.10 0 1 1 3.75,1.10 L0.6,0.2 Z" fill="#111" transform="translate(471.50,308.10) rotate(-27)"/>
<path d="M0.6,-0.2 L3.75,-1.10 A1.10,1.10 0 1 1 3.75,1.10 L0.6,0.2 Z" fill="#111" transform="translate(471.50,308.10) rotate(27)"/>
<path d="M0.6,-0.2 L3.75,-1.10 A1.10,1.10 0 1 1 3.75,1.10 L0.6,0.2 Z" fill="#111" transform="translate(471.50,308.10) rotate(90)"/>
<path d="M0.6,-0.2 L3.75,-1.10 A1.10,1.10 0 1 1 3.75,1.10 L0.6,0.2 Z" fill="#111" transform="translate(471.50,308.10) rotate(-153)"/>
<path d="M0.6,-0.2 L3.75,-1.10 A1.10,1.10 0 1 1 3.75,1.10 L0.6,0.2 Z" fill="#111" transform="translate(471.50,308.10) rotate(-207)"/>
<circle cx="471.50" cy="308.10" r="0.55" fill="#111"/>
<path d="M0.6,-0.2 L3.75,-1.10 A1.10,1.10 0 1 1 3.75,1.10 L0.6,0.2 Z" fill="#111" transform="translate(471.50,322.90) rotate(-90)"/>
<path d="M0.6,-0.2 L3.75,-1.10 A1.10,1.10 0 1 1 3.75,1.10 L0.6,0.2 Z" fill="#111" transform="translate(471.50,322.90) rotate(-27)"/>
<path d="M0.6,-0.2 L3.75,-1.10 A1.10,1.10 0 1 1 3.75,1.10 L0.6,0.2 Z" fill="#111" transform="translate(471.50,322.90) rotate(27)"/>
<path d="M0.6,-0.2 L3.75,-1.10 A1.10,1.10 0 1 1 3.75,1.10 L0.6,0.2 Z" fill="#111" transform="translate(471.50,322.90) rotate(90)"/>
<path d="M0.6,-0.2 L3.75,-1.10 A1.10,1.10 0 1 1 3.75,1.10 L0.6,0.2 Z" fill="#111" transform="translate(471.50,322.90) rotate(-153)"/>
<path d="M0.6,-0.2 L3.75,-1.10 A1.10,1.10 0 1 1 3.75,1.10 L0.6,0.2 Z" fill="#111" transform="translate(471.50,322.90) rotate(-207)"/>
<circle cx="471.50" cy="322.90" r="0.55" fill="#111"/>
<path d="M0.6,-0.2 L3.75,-1.10 A1.10,1.10 0 1 1 3.75,1.10 L0.6,0.2 Z" fill="#111" transform="translate(578.30,293.90) rotate(-90)"/>
<path d="M0.6,-0.2 L3.75,-1.10 A1.10,1.10 0 1 1 3.75,1.10 L0.6,0.2 Z" fill="#111" transform="translate(578.30,293.90) rotate(-27)"/>
<path d="M0.6,-0.2 L3.75,-1.10 A1.10,1.10 0 1 1 3.75,1.10 L0.6,0.2 Z" fill="#111" transform="translate(578.30,293.90) rotate(27)"/>
<path d="M0.6,-0.2 L3.75,-1.10 A1.10,1.10 0 1 1 3.75,1.10 L0.6,0.2 Z" fill="#111" transform="translate(578.30,293.90) rotate(90)"/>
<path d="M0.6,-0.2 L3.75,-1.10 A1.10,1.10 0 1 1 3.75,1.10 L0.6,0.2 Z" fill="#111" transform="translate(578.30,293.90) rotate(-153)"/>
<path d="M0.6,-0.2 L3.75,-1.10 A1.10,1.10 0 1 1 3.75,1.10 L0.6,0.2 Z" fill="#111" transform="translate(578.30,293.90) rotate(-207)"/>
<circle cx="578.30" cy="293.90" r="0.55" fill="#111"/>
<path d="M0.6,-0.2 L3.75,-1.10 A1.10,1.10 0 1 1 3.75,1.10 L0.6,0.2 Z" fill="#111" transform="translate(578.30,303.20) rotate(-90)"/>
<path d="M0.6,-0.2 L3.75,-1.10 A1.10,1.10 0 1 1 3.75,1.10 L0.6,0.2 Z" fill="#111" transform="translate(578.30,303.20) rotate(-27)"/>
<path d="M0.6,-0.2 L3.75,-1.10 A1.10,1.10 0 1 1 3.75,1.10 L0.6,0.2 Z" fill="#111" transform="translate(578.30,303.20) rotate(27)"/>
<path d="M0.6,-0.2 L3.75,-1.10 A1.10,1.10 0 1 1 3.75,1.10 L0.6,0.2 Z" fill="#111" transform="translate(578.30,303.20) rotate(90)"/>
<path d="M0.6,-0.2 L3.75,-1.10 A1.10,1.10 0 1 1 3.75,1.10 L0.6,0.2 Z" fill="#111" transform="translate(578.30,303.20) rotate(-153)"/>
<path d="M0.6,-0.2 L3.75,-1.10 A1.10,1.10 0 1 1 3.75,1.10 L0.6,0.2 Z" fill="#111" transform="translate(578.30,303.20) rotate(-207)"/>
<circle cx="578.30" cy="303.20" r="0.55" fill="#111"/>
<path d="M0.6,-0.2 L3.75,-1.10 A1.10,1.10 0 1 1 3.75,1.10 L0.6,0.2 Z" fill="#111" transform="translate(578.30,332.10) rotate(-90)"/>
<path d="M0.6,-0.2 L3.75,-1.10 A1.10,1.10 0 1 1 3.75,1.10 L0.6,0.2 Z" fill="#111" transform="translate(578.30,332.10) rotate(-27)"/>
<path d="M0.6,-0.2 L3.75,-1.10 A1.10,1.10 0 1 1 3.75,1.10 L0.6,0.2 Z" fill="#111" transform="translate(578.30,332.10) rotate(27)"/>
<path d="M0.6,-0.2 L3.75,-1.10 A1.10,1.10 0 1 1 3.75,1.10 L0.6,0.2 Z" fill="#111" transform="translate(578.30,332.10) rotate(90)"/>
<path d="M0.6,-0.2 L3.75,-1.10 A1.10,1.10 0 1 1 3.75,1.10 L0.6,0.2 Z" fill="#111" transform="translate(578.30,332.10) rotate(-153)"/>
<path d="M0.6,-0.2 L3.75,-1.10 A1.10,1.10 0 1 1 3.75,1.10 L0.6,0.2 Z" fill="#111" transform="translate(578.30,332.10) rotate(-207)"/>
<circle cx="578.30" cy="332.10" r="0.55" fill="#111"/>
<line x1="598.50" y1="271.80" x2="602.00" y2="271.80" stroke="#000" stroke-width="1.5" stroke-linecap="butt"/>
<circle cx="605.50" cy="271.80" r="3.4" fill="#000"/>
<line x1="611.50" y1="271.80" x2="613.00" y2="271.80" stroke="#000" stroke-width="1.5" stroke-linecap="butt"/>
<line x1="598.50" y1="289.70" x2="612.50" y2="289.70" stroke="#000" stroke-width="1.3" stroke-linecap="butt"/>
<circle cx="605.50" cy="289.70" r="3.3" fill="none" stroke="#000" stroke-width="1.2"/>
<line x1="598.50" y1="307.60" x2="602.00" y2="307.60" stroke="#ff0000" stroke-width="1.5" stroke-linecap="butt"/>
<rect x="602.00" y="304.10" width="7" height="7" fill="#ff0000"/>
<line x1="611.50" y1="307.60" x2="613.00" y2="307.60" stroke="#ff0000" stroke-width="1.5" stroke-linecap="butt"/>
<text x="621.50" y="275.60" font-size="11" text-anchor="start" font-weight="normal" fill="#1c1c1c"  stroke="#1c1c1c" stroke-width="0.2">PIO</text>
<text x="621.50" y="293.50" font-size="11" text-anchor="start" font-weight="normal" fill="#1c1c1c"  stroke="#1c1c1c" stroke-width="0.2">EMPA</text>
<text x="621.50" y="311.40" font-size="11" text-anchor="start" font-weight="normal" fill="#1c1c1c"  stroke="#1c1c1c" stroke-width="0.2">PIO + EMPA</text>
<text x="0" y="0" font-size="20" font-weight="bold" fill="#000" transform="matrix(0.7041,0,0,0.9738,1.26,481.30)" stroke="#000" stroke-width="0.2">E</text>
<defs><pattern id="hatch" patternUnits="userSpaceOnUse" width="3.33" height="3.33" patternTransform="rotate(45)"><rect width="3.33" height="3.33" fill="#fff"/><line x1="0.7" y1="0" x2="0.7" y2="3.33" stroke="#111" stroke-width="1.2"/></pattern><pattern id="hatchL" patternUnits="userSpaceOnUse" width="3.4" height="3.4" patternTransform="rotate(45)"><rect width="3.4" height="3.4" fill="#fff"/><line x1="0.7" y1="0" x2="0.7" y2="3.4" stroke="#111" stroke-width="1.5"/></pattern></defs>
<rect x="78.40" y="614.41" width="28.60" height="67.19" fill="#fff" stroke="#2a2a2a" stroke-width="1.15"/>
<text x="93.10" y="611.01" font-size="13.1" text-anchor="middle" font-weight="normal" fill="#1c1c1c" textLength="36.29" lengthAdjust="spacingAndGlyphs"  stroke="#1c1c1c" stroke-width="0.2">35.7%</text>
<rect x="110.10" y="573.77" width="28.60" height="107.83" fill="url(#hatch)" stroke="#2a2a2a" stroke-width="1.15"/>
<text x="124.80" y="570.37" font-size="13.1" text-anchor="middle" font-weight="normal" fill="#1c1c1c" textLength="36.29" lengthAdjust="spacingAndGlyphs"  stroke="#1c1c1c" stroke-width="0.2">57.1%</text>
<rect x="141.80" y="641.56" width="28.60" height="40.04" fill="#333" stroke="#2a2a2a" stroke-width="1.15"/>
<text x="156.50" y="638.16" font-size="13.1" text-anchor="middle" font-weight="normal" fill="#1c1c1c" textLength="36.29" lengthAdjust="spacingAndGlyphs"  stroke="#1c1c1c" stroke-width="0.2">21.4%</text>
<rect x="196.10" y="551.55" width="28.60" height="130.05" fill="#fff" stroke="#2a2a2a" stroke-width="1.15"/>
<text x="210.80" y="548.15" font-size="13.1" text-anchor="middle" font-weight="normal" fill="#1c1c1c" textLength="36.29" lengthAdjust="spacingAndGlyphs"  stroke="#1c1c1c" stroke-width="0.2">68.8%</text>
<rect x="227.80" y="516.04" width="28.60" height="165.56" fill="url(#hatch)" stroke="#2a2a2a" stroke-width="1.15"/>
<text x="242.50" y="512.64" font-size="13.1" text-anchor="middle" font-weight="normal" fill="#1c1c1c" textLength="36.29" lengthAdjust="spacingAndGlyphs"  stroke="#1c1c1c" stroke-width="0.2">87.5%</text>
<rect x="259.50" y="670.24" width="28.60" height="11.36" fill="#333" stroke="#2a2a2a" stroke-width="1.15"/>
<text x="274.20" y="666.84" font-size="13.1" text-anchor="middle" font-weight="normal" fill="#1c1c1c" textLength="29.18" lengthAdjust="spacingAndGlyphs"  stroke="#1c1c1c" stroke-width="0.2">6.3%</text>
<rect x="313.90" y="532.94" width="28.60" height="148.66" fill="#fff" stroke="#2a2a2a" stroke-width="1.15"/>
<text x="328.60" y="529.54" font-size="13.1" text-anchor="middle" font-weight="normal" fill="#1c1c1c" textLength="36.29" lengthAdjust="spacingAndGlyphs"  stroke="#1c1c1c" stroke-width="0.2">78.6%</text>
<rect x="345.60" y="492.30" width="28.60" height="189.30" fill="url(#hatch)" stroke="#2a2a2a" stroke-width="1.15"/>
<text x="360.30" y="488.90" font-size="13.1" text-anchor="middle" font-weight="normal" fill="#1c1c1c" textLength="43.41" lengthAdjust="spacingAndGlyphs"  stroke="#1c1c1c" stroke-width="0.2">100.0%</text>
<rect x="377.30" y="587.25" width="28.60" height="94.35" fill="#333" stroke="#2a2a2a" stroke-width="1.15"/>
<text x="392.00" y="583.85" font-size="13.1" text-anchor="middle" font-weight="normal" fill="#1c1c1c" textLength="36.29" lengthAdjust="spacingAndGlyphs"  stroke="#1c1c1c" stroke-width="0.2">50.0%</text>
<text x="327.00" y="516.80" font-size="14" text-anchor="middle" font-weight="normal" fill="#1c1c1c"  stroke="#1c1c1c" stroke-width="0.2">#</text>
<text x="358.40" y="474.60" font-size="14" text-anchor="middle" font-weight="normal" fill="#1c1c1c"  stroke="#1c1c1c" stroke-width="0.2">#</text>
<text x="391.00" y="576.40" font-size="21.5" text-anchor="middle" font-weight="normal" fill="#111"  stroke="#111" stroke-width="0.2">*</text>
<line x1="54.70" y1="491.00" x2="54.70" y2="682.30" stroke="#000" stroke-width="1.5" stroke-linecap="butt"/>
<line x1="54.00" y1="681.60" x2="430.20" y2="681.60" stroke="#000" stroke-width="1.5" stroke-linecap="butt"/>
<line x1="49.50" y1="681.60" x2="54.70" y2="681.60" stroke="#000" stroke-width="1.4" stroke-linecap="butt"/>
<text x="47.60" y="686.50" font-size="14.4" text-anchor="end" font-weight="normal" fill="#1c1c1c"  stroke="#1c1c1c" stroke-width="0.2">0</text>
<line x1="49.50" y1="634.12" x2="54.70" y2="634.12" stroke="#000" stroke-width="1.4" stroke-linecap="butt"/>
<text x="47.60" y="639.02" font-size="14.4" text-anchor="end" font-weight="normal" fill="#1c1c1c"  stroke="#1c1c1c" stroke-width="0.2">25</text>
<line x1="49.50" y1="586.65" x2="54.70" y2="586.65" stroke="#000" stroke-width="1.4" stroke-linecap="butt"/>
<text x="47.60" y="591.55" font-size="14.4" text-anchor="end" font-weight="normal" fill="#1c1c1c"  stroke="#1c1c1c" stroke-width="0.2">50</text>
<line x1="49.50" y1="539.17" x2="54.70" y2="539.17" stroke="#000" stroke-width="1.4" stroke-linecap="butt"/>
<text x="47.60" y="544.07" font-size="14.4" text-anchor="end" font-weight="normal" fill="#1c1c1c"  stroke="#1c1c1c" stroke-width="0.2">75</text>
<line x1="49.50" y1="491.70" x2="54.70" y2="491.70" stroke="#000" stroke-width="1.4" stroke-linecap="butt"/>
<text x="47.60" y="496.60" font-size="14.4" text-anchor="end" font-weight="normal" fill="#1c1c1c"  stroke="#1c1c1c" stroke-width="0.2">100</text>
<text transform="translate(14.1,668.2) rotate(-90)" font-size="14.6" fill="#1c1c1c" textLength="163.9" lengthAdjust="spacingAndGlyphs" stroke="#1c1c1c" stroke-width="0.2">Proportion of patients (%)</text>
<text x="111.63" y="701.90" font-size="14.5" font-weight="normal" fill="#1c1c1c" textLength="25.16" lengthAdjust="spacingAndGlyphs" stroke="#1c1c1c" stroke-width="0.2">PIO</text>
<text x="221.22" y="701.90" font-size="14.5" font-weight="normal" fill="#1c1c1c" textLength="40.78" lengthAdjust="spacingAndGlyphs" stroke="#1c1c1c" stroke-width="0.2">EMPA</text>
<text x="318.33" y="701.90" font-size="14.5" font-weight="normal" fill="#ff1a1a" textLength="82.20" lengthAdjust="spacingAndGlyphs" stroke="#ff1a1a" stroke-width="0.2">PIO + EMPA</text>
<rect x="442.8" y="487.3" width="19.4" height="6.2" fill="#fff" stroke="#222" stroke-width="1.2"/>
<rect x="442.8" y="536.1" width="19.4" height="6.2" fill="url(#hatchL)" stroke="#222" stroke-width="1.2"/>
<rect x="442.8" y="594.5" width="19.4" height="6.2" fill="#333" stroke="#222" stroke-width="1.2"/>
<text x="474.00" y="495.30" font-size="12.3" text-anchor="start" font-weight="normal" fill="#1c1c1c" textLength="200.3" lengthAdjust="spacingAndGlyphs"  stroke="#1c1c1c" stroke-width="0.2">≥ 50% relative reduction in liver fat</text>
<text x="443.00" y="509.30" font-size="12.3" text-anchor="start" font-weight="normal" fill="#1c1c1c" textLength="199.7" lengthAdjust="spacingAndGlyphs"  stroke="#1c1c1c" stroke-width="0.2">(<tspan font-style="italic">p</tspan> = 0.050 for three group difference)</text>
<text x="474.00" y="536.50" font-size="12.3" text-anchor="start" font-weight="normal" fill="#1c1c1c" textLength="155.5" lengthAdjust="spacingAndGlyphs"  stroke="#1c1c1c" stroke-width="0.2">≥ 30% relative reduction or</text>
<text x="474.00" y="551.00" font-size="12.3" text-anchor="start" font-weight="normal" fill="#1c1c1c" textLength="200.0" lengthAdjust="spacingAndGlyphs"  stroke="#1c1c1c" stroke-width="0.2">≥ 5% absolute reduction in liver fat</text>
<text x="443.00" y="564.90" font-size="12.3" text-anchor="start" font-weight="normal" fill="#1c1c1c" textLength="199.7" lengthAdjust="spacingAndGlyphs"  stroke="#1c1c1c" stroke-width="0.2">(<tspan font-style="italic">p</tspan> = 0.010 for three group difference)</text>
<text x="474.00" y="595.30" font-size="12.3" text-anchor="start" font-weight="normal" fill="#1c1c1c" textLength="206.6" lengthAdjust="spacingAndGlyphs"  stroke="#1c1c1c" stroke-width="0.2">≥ 30% and ≥ 20% relative reduction</text>
<text x="474.00" y="609.70" font-size="12.3" text-anchor="start" font-weight="normal" fill="#1c1c1c" textLength="133.6" lengthAdjust="spacingAndGlyphs"  stroke="#1c1c1c" stroke-width="0.2">in liver fat and stiffness</text>
<text x="443.00" y="624.70" font-size="12.3" text-anchor="start" font-weight="normal" fill="#1c1c1c" textLength="200.1" lengthAdjust="spacingAndGlyphs"  stroke="#1c1c1c" stroke-width="0.2">(<tspan font-style="italic">p</tspan> = 0.029 for three group difference)</text>
</svg>
</body></html>
